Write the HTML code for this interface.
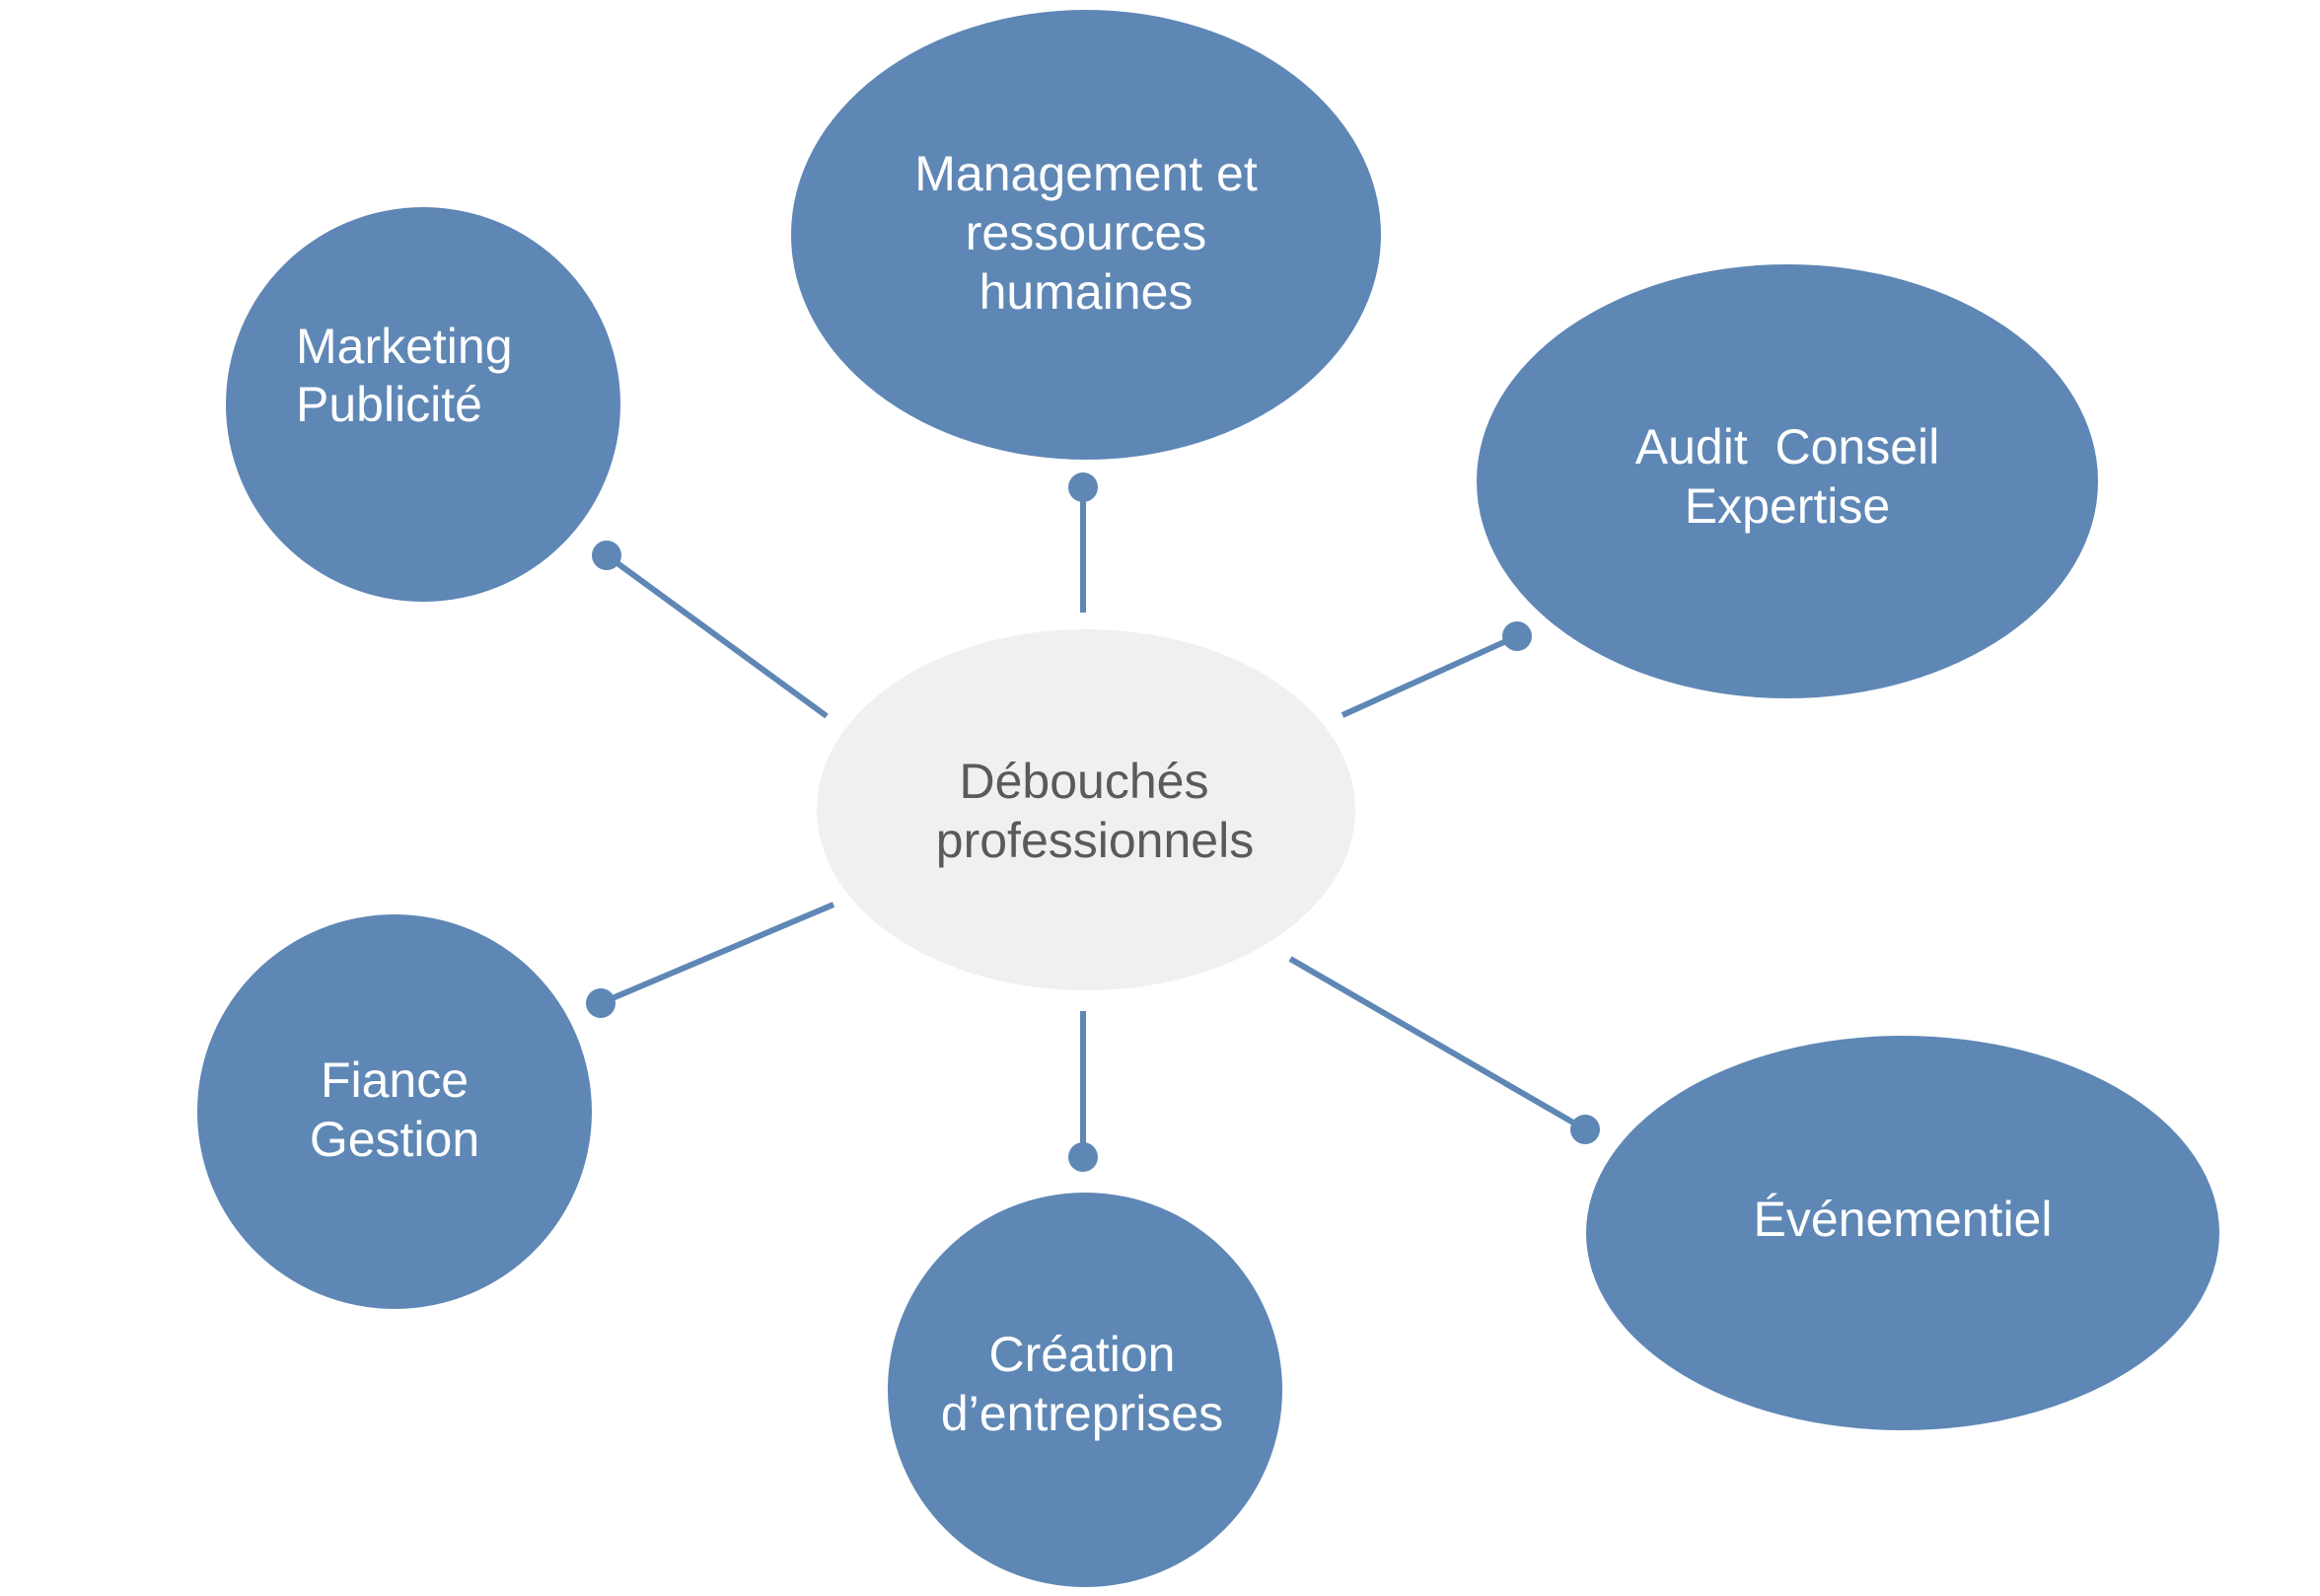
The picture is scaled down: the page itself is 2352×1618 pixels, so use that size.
<!DOCTYPE html>
<html><head><meta charset="utf-8"><style>
html,body{margin:0;padding:0;background:#fff;}
svg{display:block}
text{font-family:"Liberation Sans",Arial,sans-serif;font-size:50px;fill:#fff;dominant-baseline:central;}
</style></head><body>
<svg width="2352" height="1618" viewBox="0 0 2352 1618" xmlns="http://www.w3.org/2000/svg">
<g fill="#5e87b5">
<ellipse cx="1101" cy="238" rx="299" ry="228"/>
<circle cx="429" cy="410" r="200"/>
<ellipse cx="1812" cy="488" rx="315" ry="220"/>
<circle cx="400" cy="1127" r="200"/>
<circle cx="1100" cy="1409" r="200"/>
<ellipse cx="1929" cy="1250" rx="321" ry="200"/>
</g>
<ellipse cx="1101" cy="821" rx="273" ry="183" fill="#f0f0ee"/>
<g stroke="#5e87b5" stroke-width="6" fill="none">
<line x1="1098" y1="621" x2="1098" y2="494"/>
<line x1="838" y1="726" x2="615" y2="563"/>
<line x1="1361" y1="725" x2="1538" y2="645"/>
<line x1="845" y1="917" x2="609" y2="1017"/>
<line x1="1098" y1="1025" x2="1098" y2="1173"/>
<line x1="1308" y1="972" x2="1607" y2="1145"/>
</g>
<g fill="#5e87b5">
<circle cx="1098" cy="494" r="15"/>
<circle cx="615" cy="563" r="15"/>
<circle cx="1538" cy="645" r="15"/>
<circle cx="609" cy="1017" r="15"/>
<circle cx="1098" cy="1173" r="15"/>
<circle cx="1607" cy="1145" r="15"/>
</g>
<g text-anchor="middle">
<text x="1101" y="176">Management et</text>
<text x="1101" y="236">ressources</text>
<text x="1101" y="296">humaines</text>
<text x="1812" y="453" xml:space="preserve">Audit  Conseil</text>
<text x="1812" y="513">Expertise</text>
<text x="1099" y="792" style="fill:#5a5a5a">Débouchés</text>
<text x="1110" y="852" style="fill:#5a5a5a">professionnels</text>
<text x="400" y="1095">Fiance</text>
<text x="400" y="1155">Gestion</text>
<text x="1097" y="1373">Création</text>
<text x="1097" y="1433">d’entreprises</text>
<text x="1929" y="1236">Événementiel</text>
</g>
<text x="300" y="351">Marketing</text>
<text x="300" y="410">Publicité</text>
</svg>
</body></html>
